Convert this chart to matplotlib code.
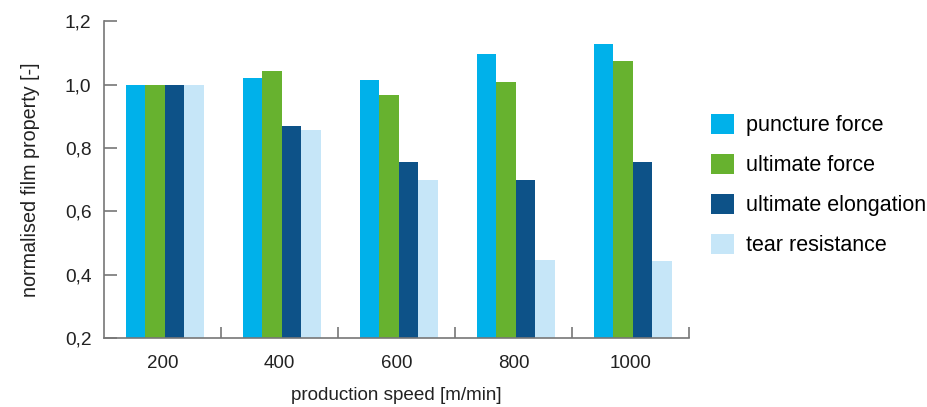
import numpy as np
import matplotlib
matplotlib.use("Agg")
import matplotlib.pyplot as plt

plt.rcParams['font.family'] = ['Liberation Sans', 'DejaVu Sans']

# data
speeds = ["200", "400", "600", "800", "1000"]
series_names = ["puncture force", "ultimate force", "ultimate elongation", "tear resistance"]
puncture_force = [1.0, 1.020, 1.013, 1.096, 1.127]
ultimate_force = [1.0, 1.042, 0.966, 1.008, 1.074]
ultimate_elongation = [1.0, 0.868, 0.757, 0.700, 0.757]
tear_resistance = [1.0, 0.856, 0.700, 0.446, 0.442]
y_ticks = [0.2, 0.4, 0.6, 0.8, 1.0, 1.2]
y_ticklabels = ["0,2", "0,4", "0,6", "0,8", "1,0", "1,2"]

colors = ["#00b1ea", "#67b22f", "#0d5288", "#c6e6f8"]
values = [puncture_force, ultimate_force, ultimate_elongation, tear_resistance]

fig = plt.figure(figsize=(9.28, 4.07), dpi=100)
ax = fig.add_axes([0.112, 0.1695, 0.6305, 0.7785])

x = np.arange(len(speeds))
w = 0.167
for i, (vals, name, c) in enumerate(zip(values, series_names, colors)):
    off = (i - 1.5) * w + 0.02
    ax.bar(x + off, np.array(vals) - 0.2, width=w, bottom=0.2, color=c, label=name, linewidth=0)

ax.set_xlim(-0.5, len(speeds) - 0.5)
ax.set_ylim(0.2, 1.2)

ax.set_yticks(y_ticks)
ax.set_yticklabels(y_ticklabels)
ax.set_xticks(x)
ax.set_xticklabels(speeds)
ax.set_xticks(np.arange(len(speeds)) + 0.5, minor=True)

gray = "#777777"
txt = "#222222"
for s in ["top", "right"]:
    ax.spines[s].set_visible(False)
for s in ["left", "bottom"]:
    ax.spines[s].set_color(gray)
    ax.spines[s].set_linewidth(1.2)

ax.tick_params(axis="x", which="major", length=0, pad=12, labelsize=13.5, labelcolor=txt)
ax.tick_params(axis="x", which="minor", length=8, direction="in", color=gray, width=1.2)
ax.tick_params(axis="y", length=9, direction="in", color=gray, width=1.2, pad=9,
               labelsize=13.8, labelcolor=txt)

ax.set_xlabel("production speed [m/min]", fontsize=13.6, color=txt, labelpad=11)
ax.set_ylabel("normalised film property [-]", fontsize=14.2, color=txt, labelpad=18)

leg = ax.legend(loc="upper left", bbox_to_anchor=(1.0376, 0.708), frameon=False,
                fontsize=15.5, handlelength=1.07, handleheight=1.07, handletextpad=0.56,
                labelspacing=0.82, borderaxespad=0, borderpad=0)

fig.savefig("out.png", dpi=100)
